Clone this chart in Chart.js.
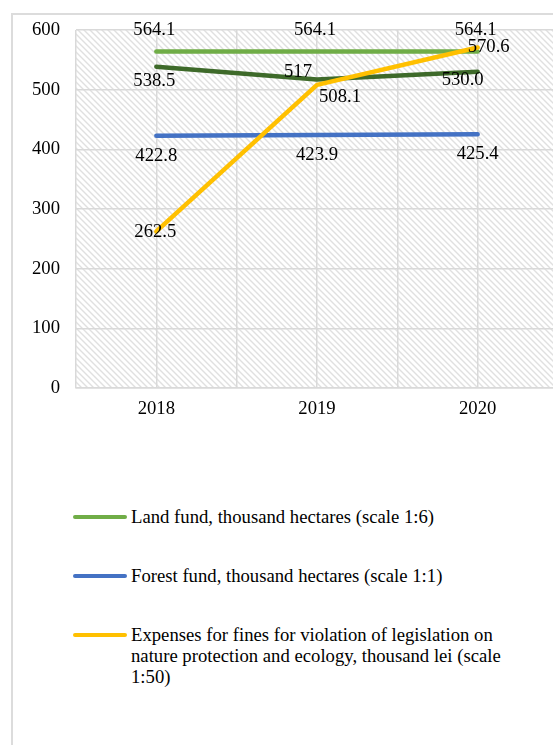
<!DOCTYPE html>
<html>
<head>
<meta charset="utf-8">
<script src="https://cdn.jsdelivr.net/npm/chart.js@4.4.1/dist/chart.umd.min.js"></script>
<style>
  html, body { margin: 0; padding: 0; background: #fff; overflow: hidden; }
  body { width: 553px; height: 745px; position: relative; }
  #frame { position: absolute; left: 11px; top: 13px; width: 620px; height: 800px; border: 2px solid #dcdcdc; box-sizing: border-box; }
  #chart { position: absolute; left: 0; top: 0; }
  #legend { position: absolute; left: 73px; top: 506px; font-family: 'Liberation Serif', 'Times New Roman', serif; font-size: 18.7px; line-height: 21px; color: #000; }
  .item { display: flex; align-items: flex-start; margin-bottom: 38px; }
  .swatch { width: 54px; height: 4px; border-radius: 2px; margin-top: 9px; margin-right: 4px; flex: none; }
  .text { width: 385px; }
</style>
</head>
<body>
<div id="frame"></div>
<canvas id="chart" width="570" height="430"></canvas>
<div id="legend"></div>
<script>
// Anos e valores
const years = ['2018', '2019', '2020'];
const landFund = [564.1, 564.1, 564.1];
const forestFund = [422.8, 423.9, 425.4];
const fines = [262.5, 508.1, 570.6];
const otherSeries = [538.5, 517, 530.0];
const otherSeriesText = ['538.5', '517', '530.0'];
const yTicks = [0, 100, 200, 300, 400, 500, 600];

const serif = "'Liberation Serif', 'Times New Roman', serif";
const fontSize = 18.7;

// deslocamento dos rótulos (dx, dy) em relação ao ponto
const labelOffsets = {
    land: [[-2, -21], [-2, -21], [-2, -21]],
    forest: [[0, 20], [0, 20], [0, 20]],
    fines: [[-1, 1], [23, 12], [11, 0]],
    other: [[-2, 14], [-19, -7], [-15, 8]]
};

function points(values) {
    return values.map((v, i) => ({ x: i, y: v }));
}

// padrão hachurado do fundo
function makeHatch() {
    const s = 6;
    const c = document.createElement('canvas');
    c.width = s; c.height = s;
    const g = c.getContext('2d');
    g.fillStyle = '#ffffff';
    g.fillRect(0, 0, s, s);
    g.strokeStyle = '#e0e0e0';
    g.lineWidth = 1.4;
    g.beginPath();
    g.moveTo(-1, -1); g.lineTo(s + 1, s + 1);
    g.moveTo(-1, s - 1); g.lineTo(1, s + 1);
    g.moveTo(s - 1, -1); g.lineTo(s + 1, 1);
    g.stroke();
    return g.createPattern(c, 'repeat');
}

const hatchBackground = {
    id: 'hatchBackground',
    beforeDraw(chart) {
        const { ctx, chartArea: a } = chart;
        ctx.save();
        ctx.fillStyle = makeHatch();
        ctx.fillRect(a.left, a.top, a.right - a.left, a.bottom - a.top);
        ctx.restore();
    }
};

const valueLabels = {
    id: 'valueLabels',
    afterDatasetsDraw(chart) {
        const ctx = chart.ctx;
        ctx.save();
        ctx.font = fontSize + 'px ' + serif;
        ctx.fillStyle = '#000';
        ctx.textAlign = 'center';
        ctx.textBaseline = 'middle';
        chart.data.datasets.forEach((ds, di) => {
            const meta = chart.getDatasetMeta(di);
            meta.data.forEach((pt, i) => {
                const off = labelOffsets[ds.key][i];
                const txt = ds.texts ? ds.texts[i] : ds.data[i].y.toFixed(1);
                ctx.fillText(txt, pt.x + off[0], pt.y + off[1]);
            });
        });
        ctx.restore();
    }
};

const lineStyle = { borderWidth: 4.5, pointRadius: 0, pointHoverRadius: 0, borderCapStyle: 'round', borderJoinStyle: 'round', tension: 0, fill: false };

const chart = new Chart(document.getElementById('chart').getContext('2d'), {
    type: 'line',
    data: {
        datasets: [
            { key: 'land', label: 'Land fund, thousand hectares (scale 1:6)', data: points(landFund), borderColor: '#70AD47', order: 1, ...lineStyle },
            { key: 'forest', label: 'Forest fund, thousand hectares (scale 1:1)', data: points(forestFund), borderColor: '#4472C4', order: 3, ...lineStyle },
            { key: 'fines', label: 'Expenses for fines for violation of legislation on nature protection and ecology, thousand lei (scale 1:50)', data: points(fines), borderColor: '#FFC000', order: 0, ...lineStyle },
            { key: 'other', label: '', data: points(otherSeries), texts: otherSeriesText, borderColor: '#3E6A2A', order: 2, ...lineStyle }
        ]
    },
    options: {
        responsive: false,
        animation: false,
        layout: { padding: { left: 0, top: 30, right: 12, bottom: 0 } },
        plugins: {
            legend: { display: false },
            tooltip: { enabled: false },
            title: { display: false }
        },
        scales: {
            x: {
                type: 'linear',
                min: -0.5,
                max: 2.5,
                grid: { color: '#d9d9d9', lineWidth: 1.5, drawTicks: false },
                border: { display: true, color: '#d9d9d9', width: 1.5 },
                ticks: {
                    stepSize: 0.5,
                    padding: 10,
                    color: '#000',
                    font: { family: serif, size: fontSize },
                    maxRotation: 0,
                    autoSkip: false,
                    callback: (v) => Math.abs(v - Math.round(v)) < 1e-6 && years[Math.round(v)] ? years[Math.round(v)] : ''
                },
                afterFit: (s) => { s.height = 42; }
            },
            y: {
                min: 0,
                max: 600,
                afterBuildTicks: (s) => { s.ticks = yTicks.map(v => ({ value: v })); },
                grid: { color: '#d9d9d9', lineWidth: 1.5, drawTicks: false },
                border: { display: false },
                ticks: { padding: 16, color: '#000', font: { family: serif, size: fontSize } },
                afterFit: (s) => { s.width = 76; }
            }
        }
    },
    plugins: [hatchBackground, valueLabels]
});

// legenda em HTML (o texto longo quebra em várias linhas)
const legend = document.getElementById('legend');
chart.data.datasets.filter(d => d.label).forEach(d => {
    const item = document.createElement('div');
    item.className = 'item';
    const sw = document.createElement('div');
    sw.className = 'swatch';
    sw.style.background = d.borderColor;
    const tx = document.createElement('div');
    tx.className = 'text';
    tx.textContent = d.label;
    item.appendChild(sw);
    item.appendChild(tx);
    legend.appendChild(item);
});
</script>
</body>
</html>
